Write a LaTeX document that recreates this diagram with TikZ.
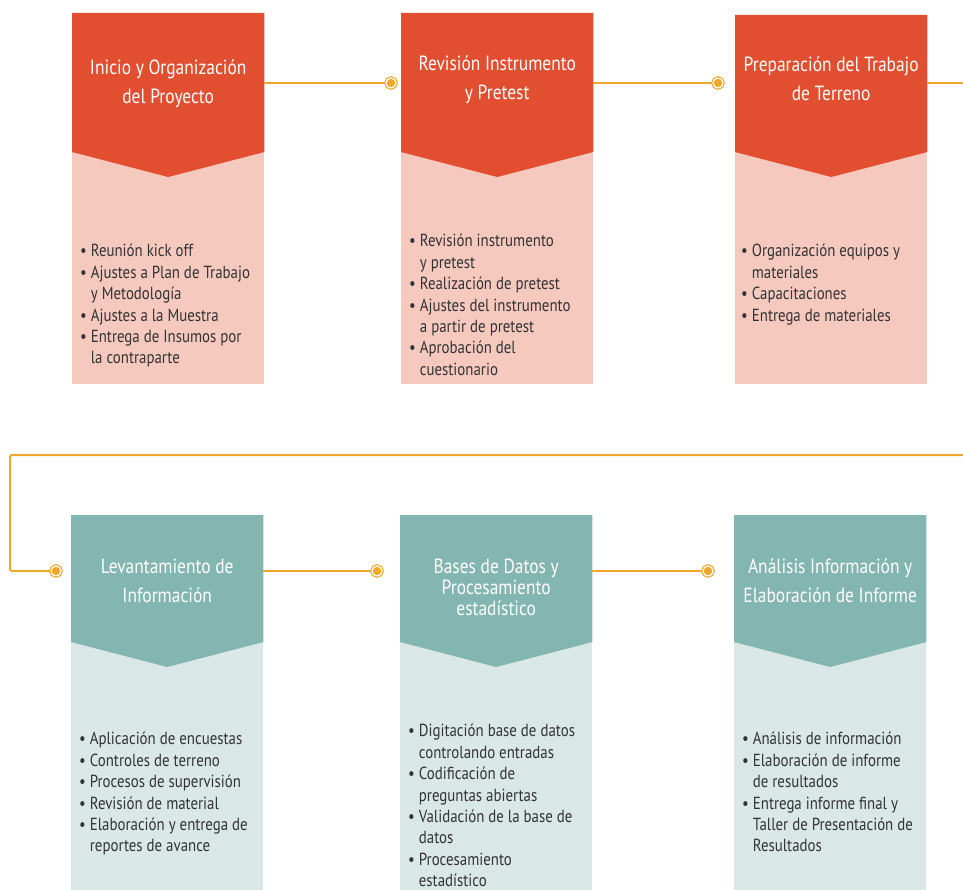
\documentclass[tikz,border=0pt]{standalone}
\usepackage{fontspec}
\setmainfont{PT Sans}[FakeStretch=0.85]
\usepackage{tikz}
\usetikzlibrary{calc}
\definecolor{redhead}{HTML}{E24F30}
\definecolor{redbody}{HTML}{F6C9BF}
\definecolor{tealhead}{HTML}{84B6B1}
\definecolor{tealbody}{HTML}{D9E8E6}
\definecolor{linkorange}{HTML}{F0A82A}
\definecolor{itemgray}{HTML}{333333}
\tikzstyle{redbox} = [rectangle, anchor=north west, minimum width=192pt, minimum height=371pt, inner sep=0pt, fill=redbody]
\tikzstyle{tealbox} = [rectangle, anchor=north west, minimum width=192pt, minimum height=375pt, inner sep=0pt, fill=tealbody]
\tikzstyle{title} = [text=white, align=center, inner sep=0pt, font=\fontsize{20.5}{29}\selectfont]
\tikzstyle{items} = [anchor=north west, align=left, inner sep=0pt, text=itemgray, font=\fontsize{17.5}{21.4}\selectfont]
\tikzstyle{link} = [draw=linkorange, line width=2pt]
\tikzstyle{dot} = [circle, draw=linkorange, line width=1.2pt, double=white, double distance=1.2pt, fill=linkorange, minimum size=10pt, inner sep=0pt]
\newcommand{\bl}{\textbullet\ }
\newcommand{\ind}{\phantom{\textbullet\ }}

\begin{document}
\begin{tikzpicture}[x=1pt, y=-1pt]
\useasboundingbox (0,0) rectangle (963,890);

% fases superiores
\node (inicio) [redbox] at (72,13) {};
\fill [redhead] (inicio.north west) -- (inicio.north east) -- ++(0,139) -- ($(inicio.north)+(0,164)$) -- ($(inicio.north west)+(0,139)$) -- cycle;
\node (tInicio) [title] at ($(inicio.north)+(0,70.5)$) {Inicio y Organización\\del Proyecto};
\node (lInicio) [items] at ($(inicio.north west)+(8,231)$) {\bl Reunión kick off\\\bl Ajustes a Plan de Trabajo\\\ind y Metodología\\\bl Ajustes a la Muestra\\\bl Entrega de Insumos por\\\ind la contraparte};

\node (revision) [redbox] at (401,13) {};
\fill [redhead] (revision.north west) -- (revision.north east) -- ++(0,139) -- ($(revision.north)+(0,164)$) -- ($(revision.north west)+(0,139)$) -- cycle;
\node (tRevision) [title] at ($(revision.north)+(0,66.5)$) {Revisión Instrumento\\y Pretest};
\node (lRevision) [items] at ($(revision.north west)+(8,221)$) {\bl Revisión instrumento\\\ind y pretest\\\bl Realización de pretest\\\bl Ajustes del instrumento\\\ind a partir de pretest\\\bl Aprobación del\\\ind cuestionario};

\node (preparacion) [redbox, minimum height=369pt] at (735,15) {};
\fill [redhead] (preparacion.north west) -- (preparacion.north east) -- ++(0,137) -- ($(preparacion.north)+(0,162)$) -- ($(preparacion.north west)+(0,137)$) -- cycle;
\node (tPreparacion) [title] at ($(preparacion.north)+(0,64)$) {Preparación del Trabajo\\de Terreno};
\node (lPreparacion) [items] at ($(preparacion.north west)+(6,229)$) {\bl Organización equipos y\\\ind materiales\\\bl Capacitaciones\\\bl Entrega de materiales};

% fases inferiores
\node (levantamiento) [tealbox] at (71,515) {};
\fill [tealhead] (levantamiento.north west) -- (levantamiento.north east) -- ++(0,127) -- ($(levantamiento.north)+(0,152)$) -- ($(levantamiento.north west)+(0,127)$) -- cycle;
\node (tLevantamiento) [title] at ($(levantamiento.north)+(0,66)$) {Levantamiento de\\Información};
\node (lLevantamiento) [items] at ($(levantamiento.north west)+(8,217)$) {\bl Aplicación de encuestas\\\bl Controles de terreno\\\bl Procesos de supervisión\\\bl Revisión de material\\\bl Elaboración y entrega de\\\ind reportes de avance};

\node (bases) [tealbox] at (400,515) {};
\fill [tealhead] (bases.north west) -- (bases.north east) -- ++(0,127) -- ($(bases.north)+(0,152)$) -- ($(bases.north west)+(0,127)$) -- cycle;
\node (tBases) [title, font=\fontsize{20.5}{21}\selectfont] at ($(bases.north)+(0,72)$) {Bases de Datos y\\Procesamiento\\estadístico};
\node (lBases) [items] at ($(bases.north west)+(8,209)$) {\bl Digitación base de datos\\\ind controlando entradas\\\bl Codificación de\\\ind preguntas abiertas\\\bl Validación de la base de\\\ind datos\\\bl Procesamiento\\\ind estadístico};

\node (analisis) [tealbox] at (734,515) {};
\fill [tealhead] (analisis.north west) -- (analisis.north east) -- ++(0,127) -- ($(analisis.north)+(0,152)$) -- ($(analisis.north west)+(0,127)$) -- cycle;
\node (tAnalisis) [title] at ($(analisis.north)+(0,66)$) {Análisis Información y\\Elaboración de Informe};
\node (lAnalisis) [items] at ($(analisis.north west)+(8,217)$) {\bl Análisis de información\\\bl Elaboración de informe\\\ind de resultados\\\bl Entrega informe final y\\\ind Taller de Presentación de\\\ind Resultados};

% conectores
\node (d1) [dot] at (391,83) {};
\node (d2) [dot] at (718,83) {};
\node (d4) [dot] at (56,571) {};
\node (d5) [dot] at (377,571) {};
\node (d6) [dot] at (708,571) {};
\coordinate (e1) at (963,83);
\coordinate (e2) at (963,455);
\coordinate (c1) at (10,455);

\draw [link] (inicio.east |- d1) -- (d1);
\draw [link] (revision.east |- d2) -- (d2);
\draw [link] (preparacion.east |- e1) -- (e1);
\draw [link, rounded corners=2pt] (e2) -- (c1) |- (d4);
\draw [link] (levantamiento.east |- d5) -- (d5);
\draw [link] (bases.east |- d6) -- (d6);
\end{tikzpicture}
\end{document}
